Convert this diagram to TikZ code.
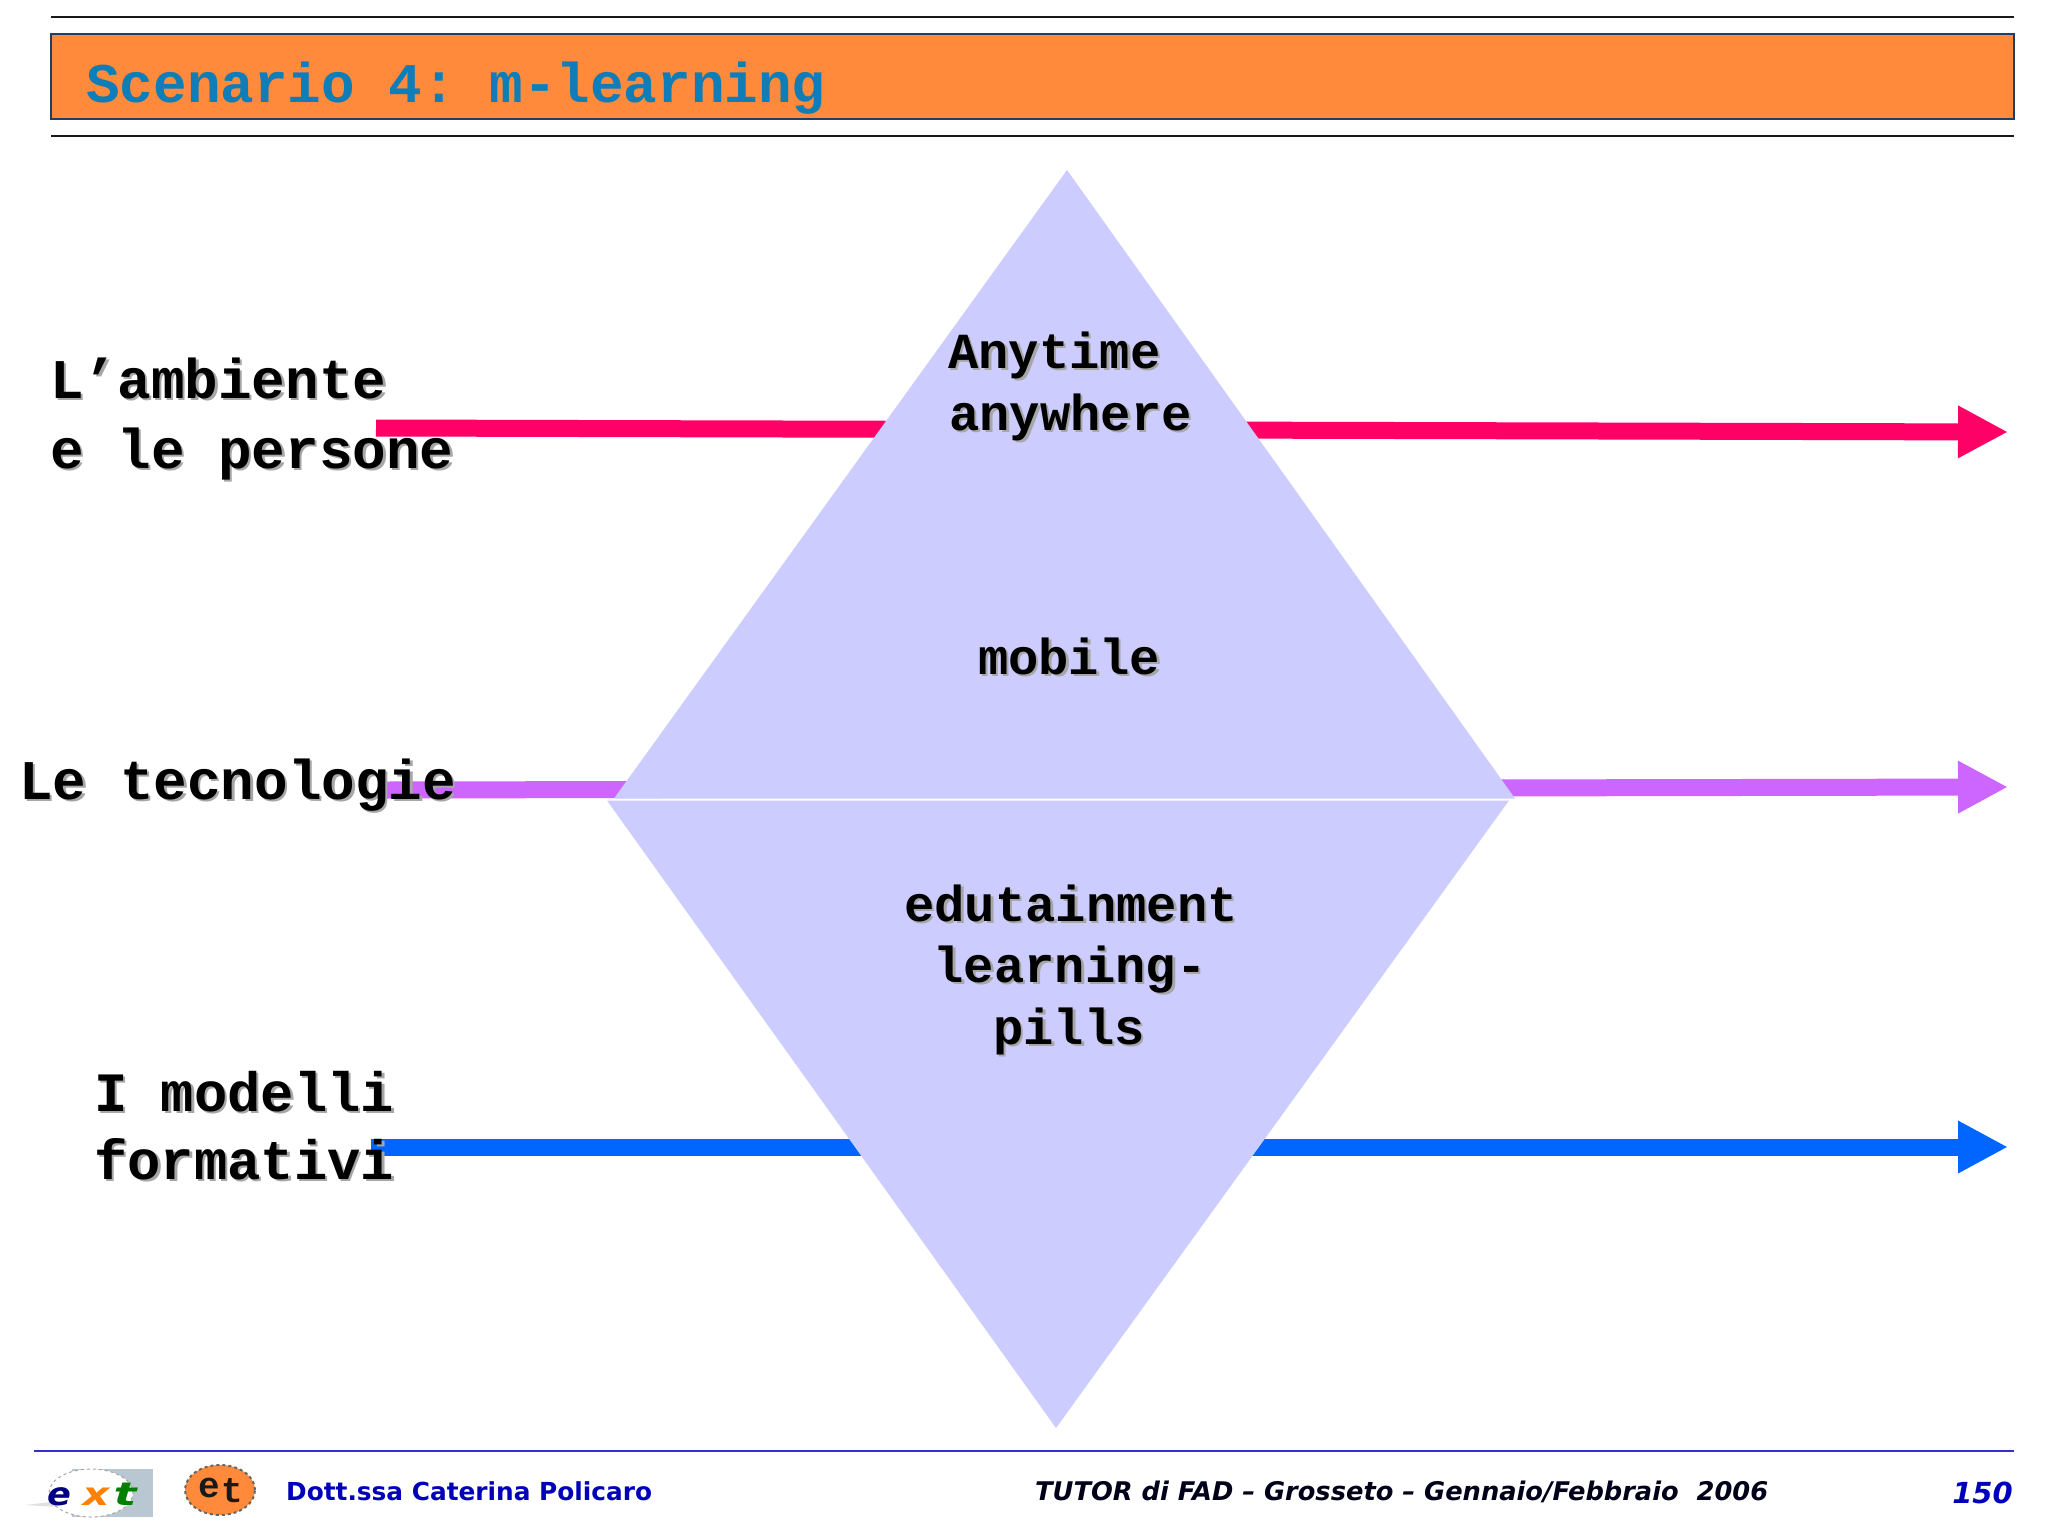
\documentclass[tikz,border=0pt]{standalone}
\usepackage{graphicx}
\usepackage{fontspec}
\setmainfont{DejaVu Sans}
\newfontfamily\monob{Liberation Mono}[BoldFont={Liberation Mono Bold}]
\usetikzlibrary{arrows.meta}
\definecolor{hdrorange}{HTML}{FF8A3C}
\definecolor{hdrblue}{HTML}{0F7DB8}
\definecolor{hdredge}{HTML}{1F3F66}
\definecolor{barred}{HTML}{FF0066}
\definecolor{barpurple}{HTML}{CC66FF}
\definecolor{barblue}{HTML}{0066FF}
\definecolor{diam}{HTML}{CCCCFF}
\definecolor{foot}{HTML}{0000BB}
\definecolor{rulefoot}{HTML}{3333CC}
\definecolor{logogrey}{HTML}{B9C7D3}
\frenchspacing
\newcommand{\shtxt}[1]{\leavevmode\rlap{\kern2.5pt\raisebox{-2.5pt}{\color{black!35}#1}}#1}
\tikzset{
  x=1pt,y=-1pt,
  bar/.style={line width=17pt,-{Triangle[length=50pt,width=49pt]}},
  leftlab/.style={anchor=base west,inner sep=0pt,font=\monob\bfseries\fontsize{56}{60}\selectfont},
  midlab/.style={anchor=base,inner sep=0pt,font=\monob\bfseries\fontsize{50.5}{54}\selectfont},
  midleft/.style={anchor=base west,inner sep=0pt,font=\monob\bfseries\fontsize{50.5}{54}\selectfont},
  footlab/.style={anchor=base west,inner sep=0pt,text=foot},
  hrule/.style={line width=2.6pt,black!90},
  extletter/.style={anchor=base,inner sep=0pt,font=\bfseries\itshape\fontsize{32}{34}\selectfont},
  etletter/.style={anchor=base,inner sep=0pt,text=black!90,font=\monob\bfseries\fontsize{36}{38}\selectfont},
}
\begin{document}
\begin{tikzpicture}
\useasboundingbox (0,0) rectangle (2048,1536);
\fill[white] (0,0) rectangle (2048,1536);
% header
\draw[hrule] (51,17) -- (2014,17);
\draw[hrule] (51,136) -- (2014,136);
\draw[fill=hdrorange,draw=hdredge,line width=2pt] (51,34) rectangle (2014,119);
\node[anchor=base west,inner sep=0pt,text=hdrblue,font=\monob\bfseries\fontsize{56}{60}\selectfont] (title) at (86,103) {Scenario 4: m-learning};
% bars
\coordinate (ra) at (376,428); \coordinate (rb) at (2008,432);
\coordinate (pa) at (386,790); \coordinate (pb) at (2008,787);
\coordinate (ba) at (371,1147); \coordinate (bb) at (2008,1147);
\draw[bar,barred] (ra) -- (rb);
\draw[bar,barpurple] (pa) -- (pb);
\draw[bar,barblue] (ba) -- (bb);
% diamond
\fill[diam] (1067,170) -- (1515,798.5) -- (614,798.5) -- cycle;
\fill[diam] (607,800.5) -- (1509,800.5) -- (1056,1428) -- cycle;
% left labels
\node[leftlab] (l1) at (50,398) {\shtxt{L’ambiente}};
\node[leftlab] (l2) at (50,468) {\shtxt{e le persone}};
\node[leftlab] (l3) at (19,799) {\shtxt{Le tecnologie}};
\node[leftlab,font=\monob\bfseries\fontsize{55.5}{60}\selectfont] (l4) at (94,1111) {\shtxt{I modelli}};
\node[leftlab,font=\monob\bfseries\fontsize{55.5}{60}\selectfont] (l5) at (94,1179) {\shtxt{formativi}};
% centre labels
\node[midleft] (m1) at (948,368) {\shtxt{Anytime}};
\node[midleft] (m2) at (949,430) {\shtxt{anywhere}};
\node[midlab] (m3) at (1069,674) {\shtxt{mobile}};
\node[midlab] (m4) at (1071,921) {\shtxt{edutainment}};
\node[midlab] (m5) at (1070,982) {\shtxt{learning-}};
\node[midlab] (m6) at (1069,1044) {\shtxt{pills}};
% footer
\draw[rulefoot,line width=2pt] (34,1451) -- (2014,1451);
\fill[logogrey] (72,1469) rectangle (153,1517);
\fill[black!12] (25,1505) -- (60,1501) -- (60,1507) -- cycle;
\fill[white] (91,1493) ellipse [x radius=42pt,y radius=24pt];
\draw[black!35,dashed,line width=1pt] (91,1493) ellipse [x radius=42pt,y radius=24pt];
\node[extletter,text=blue!50!black] (exte) at (59,1505) {\scalebox{1.1}[1]{e}};
\node[extletter,text=orange] (extx) at (96,1505) {\scalebox{1.3}[1]{x}};
\node[extletter,text=green!50!black] (extt) at (125,1505) {\scalebox{1.5}[1]{t}};
\draw[fill=hdrorange,draw=black!60,dashed,line width=2pt] (220,1490) ellipse [x radius=35pt,y radius=25pt];
\node[etletter] (ete) at (209,1497) {e};
\node[etletter] (ett) at (232,1502) {t};
\node[footlab,font=\bfseries\fontsize{24.8}{28}\selectfont] (f1) at (286,1500) {Dott.ssa Caterina Policaro};
\node[footlab,font=\bfseries\itshape\fontsize{25.7}{28}\selectfont,text=black!90!blue] (f2) at (1035,1500) {TUTOR di FAD – Grosseto – Gennaio/Febbraio\ \ 2006};
\node[anchor=base east,inner sep=0pt,text=foot,font=\bfseries\itshape\fontsize{29}{32}\selectfont] (f3) at (2013,1503) {150};
\end{tikzpicture}
\end{document}
